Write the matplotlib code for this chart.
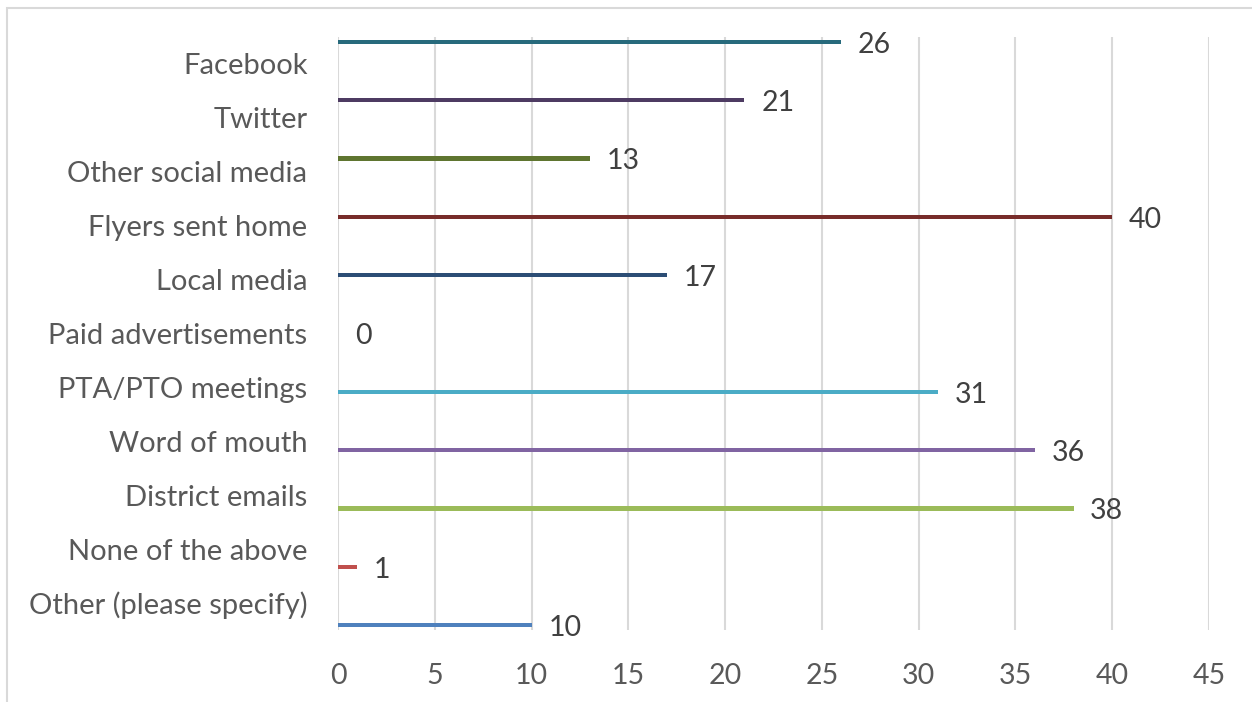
import numpy as np
import matplotlib.pyplot as plt
from matplotlib.patches import Rectangle

plt.rcParams['font.family'] = ['Lato', 'DejaVu Sans']

# categories listed bottom to top, as the series order of the cluster
categories = ['Other (please specify)', 'None of the above', 'District emails',
              'Word of mouth', 'PTA/PTO meetings', 'Paid advertisements',
              'Local media', 'Flyers sent home', 'Other social media',
              'Twitter', 'Facebook']
values = [10, 1, 38, 36, 31, 0, 17, 40, 13, 21, 26]
colors = ['#4F81BD', '#C0504D', '#9BBB59', '#8064A2', '#4BACC6', '#F79646',
          '#2C4D75', '#772C2A', '#5F7530', '#4D3B62', '#276A7C']
x_ticks = [0, 5, 10, 15, 20, 25, 30, 35, 40, 45]

W, H = 1252, 702
fig = plt.figure(figsize=(W / 100, H / 100), dpi=100)
ax = fig.add_axes([338 / W, 1 - 630 / H, (1209 - 338) / W, (630 - 37) / H])

# chart frame
fig.patches.append(Rectangle((7 / W, -0.1), 1.2, 1.1 - 8 / H, transform=fig.transFigure,
                             fill=False, edgecolor='#D9D9D9', linewidth=1.5))

n = len(categories)
bar_h = 0.082
y_pos = np.arange(n)
for k in range(n):
    # each series sits at its own slot within the clustered group
    y = y_pos[k] + (k - (n - 1) / 2) * bar_h
    ax.barh(y, values[k], height=bar_h, color=colors[k], zorder=3)
    ax.annotate(str(values[k]), xy=(values[k], y), xytext=(12, -2),
                textcoords='offset points', va='center', ha='left',
                fontsize=20.5, color='#404040')

ax.set_ylim(-0.5, n - 0.5)
ax.set_xlim(0, 45)
ax.set_yticks(y_pos)
ax.set_yticklabels(categories, fontsize=21, color='#595959')
ax.set_xticks(x_ticks)
ax.set_xticklabels([str(t) for t in x_ticks], fontsize=20.5, color='#595959')
ax.tick_params(length=0, pad=22, axis='y')
ax.tick_params(length=0, pad=24, axis='x')
ax.grid(axis='x', color='#D9D9D9', linewidth=1.5, zorder=0)
for s in ax.spines.values():
    s.set_visible(False)

fig.savefig('out.png', dpi=100)
